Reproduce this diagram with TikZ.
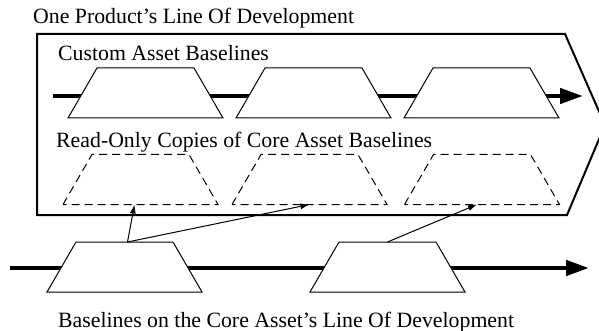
\documentclass[tikz,border=0pt]{standalone}
\usepackage{fontspec}
\setmainfont{Liberation Serif}
\usepackage{tikz}
\usetikzlibrary{positioning,arrows.meta}
\tikzstyle{asset}=[rectangle, minimum width=155pt, minimum height=50pt, inner sep=0pt, outer sep=0pt]
\tikzstyle{assetline}=[draw=black, fill=white, line width=1pt, line join=miter]
\tikzstyle{copyline}=[assetline, dash pattern=on 8pt off 5pt]
\tikzstyle{timeline}=[-{Triangle[length=23pt,width=15pt]}, line width=4.6pt]
\tikzstyle{myarrow}=[-{Latex[length=9pt,width=6pt]}, line width=1pt]
\tikzstyle{title}=[anchor=base west, inner sep=0pt, font=\fontsize{21.8}{26}\selectfont]
% trapezoid outline over a named asset node
\newcommand{\assetshape}[2]{\path[#1] (#2.south west) -- ([xshift=29pt]#2.north west)
        -- ([xshift=-29pt]#2.north east) -- (#2.south east) -- cycle;}

\begin{document}
\begin{tikzpicture}[x=1pt,y=-1pt]
	\useasboundingbox (0,0) rectangle (599,331);

	% the product's line of development
	\draw[line width=2pt, line join=miter] (37,34) -- (565,34) -- (605,125) -- (567,215) -- (37,215) -- cycle;
	\node (ProductTitle) [title] at (33,24) {One Product’s Line Of Development};
	\node (CustomTitle) [title] at (58,61) {Custom Asset Baselines};
	\node (CopyTitle) [title] at (56,148) {Read-Only Copies of Core Asset Baselines};
	\node (CoreTitle) [title] at (58,327) {Baselines on the Core Asset’s Line Of Development};

	\coordinate (CustomStart) at (53,96);
	\coordinate (CustomEnd) at (583,96);
	\coordinate (CoreStart) at (10,268);
	\coordinate (CoreEnd) at (589,268);
	\draw[timeline] (CustomStart) -- (CustomEnd);
	\draw[timeline] (CoreStart) -- (CoreEnd);

	\node (CustomA) [asset] at (145.5,93) {};
	\node (CustomB) [asset] at (313.5,93) {};
	\node (CustomC) [asset] at (481.5,93) {};
	\assetshape{assetline}{CustomA}
	\assetshape{assetline}{CustomB}
	\assetshape{assetline}{CustomC}

	\node (CopyA) [asset] at (140.5,179.5) {};
	\node (CopyB) [asset] at (309.5,179.5) {};
	\node (CopyC) [asset] at (482,179.5) {};
	\assetshape{copyline}{CopyA}
	\assetshape{copyline}{CopyB}
	\assetshape{copyline}{CopyC}

	\node (CoreA) [asset] at (124.5,267) {};
	\node (CoreB) [asset] at (387.5,267) {};
	\assetshape{assetline}{CoreA}
	\assetshape{assetline}{CoreB}

	\draw[myarrow] ([xshift=3pt]CoreA.north) -- ([xshift=-6pt]CopyA.south);
	\draw[myarrow] ([xshift=3pt]CoreA.north) -- (CopyB.south);
	\draw[myarrow] (CoreB.north) -- ([xshift=-5pt]CopyC.south);
\end{tikzpicture}
\end{document}
